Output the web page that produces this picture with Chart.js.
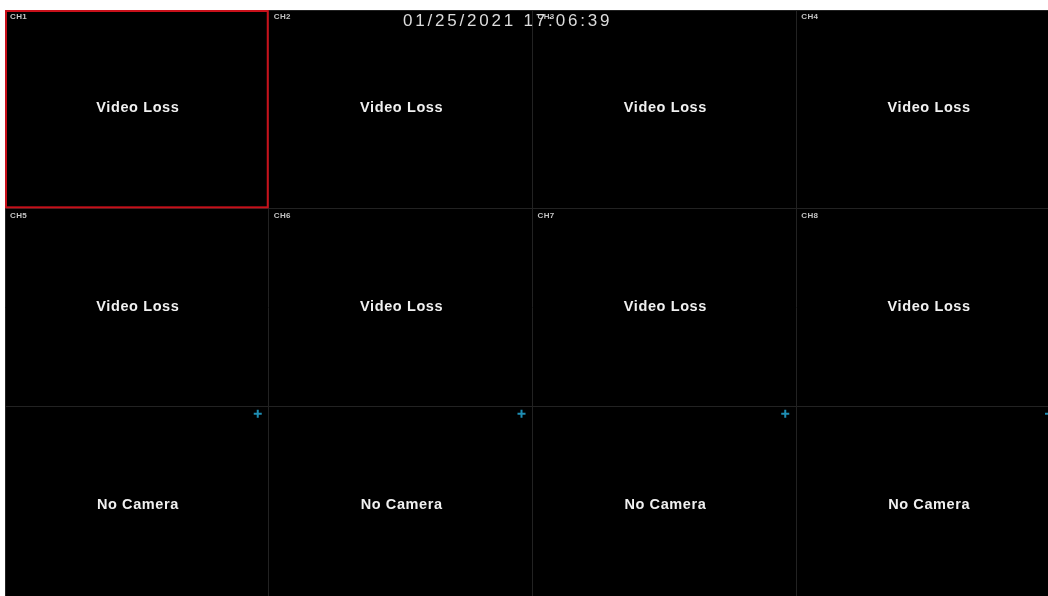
<!DOCTYPE html>
<html>
<head>
<meta charset="utf-8">
<style>
  html, body { margin: 0; padding: 0; background: #fff; overflow: hidden; }
  #wrap { position: absolute; left: 0; top: 0; width: 1060px; height: 605px; }
</style>
<script src="https://cdn.jsdelivr.net/npm/chart.js@4/dist/chart.umd.min.js"></script>
</head>
<body>
<div id="wrap"><canvas id="dvrChart" width="1060" height="605"></canvas></div>
<script>
// grid of the DVR live view: 4 columns x 3 rows
const columns = [0, 1, 2, 3];
const rows = [0, 1, 2];
const channelLabels = ['CH1', 'CH2', 'CH3', 'CH4', 'CH5', 'CH6', 'CH7', 'CH8', '', '', '', ''];
const cellStatus = [
  'Video Loss', 'Video Loss', 'Video Loss', 'Video Loss',
  'Video Loss', 'Video Loss', 'Video Loss', 'Video Loss',
  'No Camera', 'No Camera', 'No Camera', 'No Camera',
];
const timestamp = '01/25/2021 17:06:39';
const selectedChannel = 0;

const FONT = '"Liberation Sans", Arial, sans-serif';

function buildCells() {
  const cells = [];
  rows.forEach((r) => {
    columns.forEach((c) => {
      const idx = r * columns.length + c;
      cells.push({ x: c + 0.5, y: r + 0.5, col: c, row: r, label: channelLabels[idx], status: cellStatus[idx] });
    });
  });
  return cells;
}

const cells = buildCells();

const screenPlugin = {
  id: 'dvrScreen',
  beforeDraw(chart) {
    const { ctx, chartArea } = chart;
    ctx.save();
    ctx.fillStyle = '#000';
    ctx.fillRect(chartArea.left, chartArea.top, chartArea.right - chartArea.left, chartArea.bottom - chartArea.top);
    ctx.restore();
  },
  afterDatasetsDraw(chart) {
    const { ctx, scales } = chart;
    const xs = scales.x;
    const ys = scales.y;
    ctx.save();

    cells.forEach((cell, i) => {
      const left = xs.getPixelForValue(cell.col);
      const right = xs.getPixelForValue(cell.col + 1);
      const top = ys.getPixelForValue(cell.row);
      const bottom = ys.getPixelForValue(cell.row + 1);
      const cx = xs.getPixelForValue(cell.x);
      const cy = ys.getPixelForValue(cell.y);

      // channel name
      if (cell.label) {
        ctx.font = 'bold 8px ' + FONT;
        ctx.fillStyle = '#c4c4c4';
        ctx.textAlign = 'left';
        ctx.textBaseline = 'top';
        ctx.letterSpacing = '0.4px';
        ctx.fillText(cell.label, left + 5, top + 3);
      }

      // status text
      ctx.font = 'bold 14.5px ' + FONT;
      ctx.fillStyle = '#f0f0f0';
      ctx.textAlign = 'center';
      ctx.textBaseline = 'middle';
      ctx.letterSpacing = '0.6px';
      ctx.fillText(cell.status, cx + 1, cy - 1);

      // "add camera" marker
      if (cell.status === 'No Camera') {
        const px = right - 11;
        const py = top + 7;
        ctx.strokeStyle = '#1e8db3';
        ctx.lineWidth = 2;
        ctx.beginPath();
        ctx.moveTo(px - 4, py);
        ctx.lineTo(px + 4, py);
        ctx.moveTo(px, py - 4);
        ctx.lineTo(px, py + 4);
        ctx.stroke();
      }

      if (i === selectedChannel) {
        ctx.strokeStyle = '#c8101a';
        ctx.lineWidth = 2;
        ctx.strokeRect(left + 1, top + 1, right - left - 2, bottom - top - 2);
      }
    });

    // date / time overlay
    ctx.font = '17px ' + FONT;
    ctx.fillStyle = '#dcdcdc';
    ctx.textAlign = 'left';
    ctx.textBaseline = 'middle';
    ctx.letterSpacing = '2.8px';
    ctx.fillText(timestamp, 403, ys.getPixelForValue(0) + 11);

    ctx.restore();
  },
};

const config = {
  type: 'scatter',
  data: {
    datasets: [
      {
        label: 'cells',
        data: cells,
        pointRadius: 0,
        pointHoverRadius: 0,
      },
    ],
  },
  options: {
    responsive: false,
    animation: false,
    devicePixelRatio: 1,
    layout: { padding: { left: 5, top: 10, right: 0, bottom: 0 } },
    plugins: { legend: { display: false }, tooltip: { enabled: false } },
    scales: {
      x: {
        type: 'linear',
        min: 0,
        max: columns.length,
        ticks: { display: false, stepSize: 1 },
        grid: { color: '#222', drawTicks: false, lineWidth: 1 },
        border: { display: false },
      },
      y: {
        type: 'linear',
        reverse: true,
        min: 0,
        max: rows.length,
        ticks: { display: false, stepSize: 1 },
        grid: { color: '#222', drawTicks: false, lineWidth: 1 },
        border: { display: false },
      },
    },
  },
  plugins: [screenPlugin],
};

new Chart(document.getElementById('dvrChart'), config);
</script>
</body>
</html>
